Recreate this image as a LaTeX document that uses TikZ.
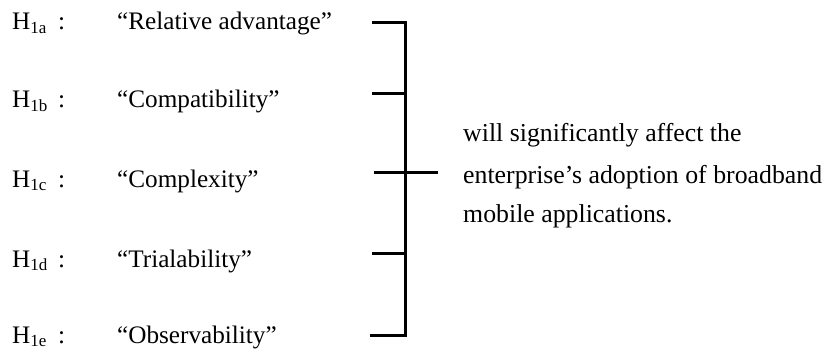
\documentclass[tikz,border=0pt]{standalone}
\usepackage{fontspec}
\setmainfont{Liberation Serif}
\begin{document}
\begin{tikzpicture}[x=1pt,y=-1pt,
  txt/.style={inner sep=0pt,anchor=base west,font=\fontsize{25.2}{25.2}\selectfont},
  rtxt/.style={inner sep=0pt,anchor=base west,font=\fontsize{25.8}{25.8}\selectfont},
  brk/.style={line width=3pt,black}]
\useasboundingbox (0,0) rectangle (827,350);
\newcommand{\hsub}[1]{H\raisebox{-3.5pt}{\fontsize{17}{17}\selectfont #1}}
% labels
\foreach \id/\y/\s/\t in {a/30/1a/{``Relative advantage''},b/108/1b/{``Compatibility''},c/187/1c/{``Complexity''},d/267/1d/{``Trialability''},e/343/1e/{``Observability''}}{
  \node[txt] (h\id) at (12,\y) {\hsub{\s}};
  \node[txt] (col\id) at (58,\y) {:};
  \node[txt] (q\id) at (117,\y) {\t};
}
% bracket
\coordinate (ta) at (372,23);
\coordinate (tb) at (372,94);
\coordinate (tc) at (374,172);
\coordinate (td) at (372,253);
\coordinate (te) at (370,335);
\coordinate (va) at (405,23);
\coordinate (vb) at (405,94);
\coordinate (vc) at (405,172);
\coordinate (vd) at (405,253);
\coordinate (ve) at (405,335);
\coordinate (out) at (438,172);
\draw[brk] (ta) -- (va) -- (ve) -- (te);
\draw[brk] (tb) -- (vb);
\draw[brk] (tc) -- (out);
\draw[brk] (td) -- (vd);
% right text
\node[rtxt] (r1) at (463,142) {will significantly affect the};
\node[rtxt] (r2) at (463,183) {enterprise’s adoption of broadband};
\node[rtxt] (r3) at (463,222) {mobile applications.};
\end{tikzpicture}
\end{document}
